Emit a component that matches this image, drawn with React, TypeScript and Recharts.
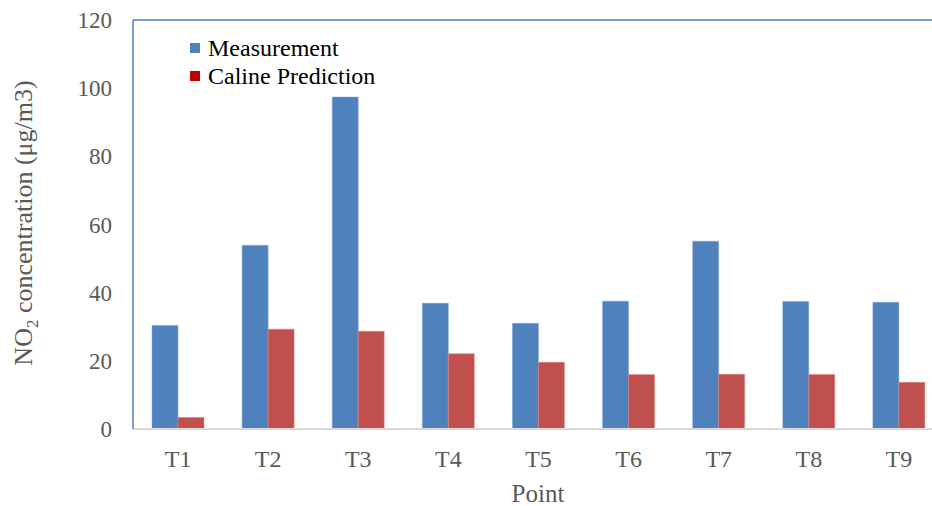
import React from 'react';
import { BarChart, Bar, XAxis, YAxis, ReferenceLine } from 'recharts';

const points = ['T1', 'T2', 'T3', 'T4', 'T5', 'T6', 'T7', 'T8', 'T9'];
const measurement = [30.4, 53.9, 97.4, 36.9, 31.0, 37.5, 55.1, 37.4, 37.2];
const calinePrediction = [3.4, 29.3, 28.7, 22.1, 19.6, 16.0, 16.1, 16.0, 13.7];
const yTicks = [0, 20, 40, 60, 80, 100, 120];
const seriesNames = ['Measurement', 'Caline Prediction'];

const BLUE = '#4F81BD';
const RED = '#C0504D';
const legendColors = ['#4F81BD', '#C00000'];
const FONT = '"Liberation Serif", "Times New Roman", serif';

const data = points.map((p, i) => ({
  point: p,
  measurement: measurement[i],
  caline: calinePrediction[i],
}));

// y axis title with the subscript 2 in NO2
const YTitle = () => (
  <text
    transform="translate(32, 223) rotate(-90)"
    textAnchor="middle"
    fontFamily={FONT}
    fontSize={26}
    fill="#595959"
  >
    <tspan>NO</tspan>
    <tspan dy={6} fontSize={17}>2</tspan>
    <tspan dy={-6}> concentration (μg/m3)</tspan>
  </text>
);

const XTitle = () => (
  <text x={538} y={502} textAnchor="middle" fontFamily={FONT} fontSize={25} fill="#595959">
    Point
  </text>
);

const App = () => {
  return (
    <div style={{ position: 'absolute', left: 0, top: 0, width: 932, height: 506, overflow: 'hidden', background: '#fff' }}>
      <BarChart
        width={944}
        height={506}
        data={data}
        margin={{ top: 20, right: 0, left: 0, bottom: 0 }}
        barGap={0}
        barSize={26}
      >
        <XAxis
          dataKey="point"
          height={77}
          tickLine={false}
          tickSize={0}
          tickMargin={21}
          axisLine={{ stroke: '#D9D9D9', strokeWidth: 2 }}
          tick={{ fill: '#595959', fontSize: 24, fontFamily: FONT }}
          label={<XTitle />}
        />
        <YAxis
          domain={[0, 120]}
          ticks={yTicks}
          width={133}
          tickLine={false}
          tickSize={0}
          tickMargin={21}
          axisLine={{ stroke: BLUE, strokeWidth: 1.5 }}
          tick={{ fill: '#595959', fontSize: 23, fontFamily: FONT }}
          label={<YTitle />}
        />
        <ReferenceLine y={120} stroke={BLUE} strokeWidth={1.5} />
        <Bar dataKey="measurement" name={seriesNames[0]} fill={BLUE} stroke="#7FA6D6" strokeWidth={0.5} isAnimationActive={false} />
        <Bar dataKey="caline" name={seriesNames[1]} fill={RED} stroke="#E08A88" strokeWidth={0.5} isAnimationActive={false} />
      </BarChart>
      <div style={{ position: 'absolute', left: 190, top: 34, fontFamily: FONT, fontSize: 24, color: '#000', lineHeight: '28px' }}>
        {seriesNames.map((name, i) => (
          <div key={name} style={{ display: 'flex', alignItems: 'center' }}>
            <span style={{ display: 'inline-block', width: 10, height: 10, background: legendColors[i], marginRight: 8 }} />
            {name}
          </div>
        ))}
      </div>
    </div>
  );
};

export default App;
